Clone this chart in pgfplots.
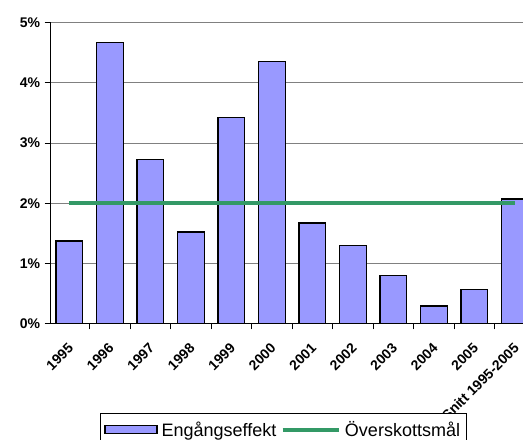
\documentclass[border=0pt]{standalone}
\usepackage{fontspec}
\setmainfont{Liberation Sans}
\usepackage{pgfplots}
\pgfplotsset{compat=1.18}
\definecolor{barblue}{HTML}{9999FF}
\definecolor{goalgreen}{HTML}{339966}

\begin{document}
\begin{tikzpicture}
\begin{axis}[
    name=ax,
    scale only axis,
    width=472pt, height=300.6pt,
    xmin=-0.46, xmax=11.2,
    ymin=0, ymax=5,
    axis x line=bottom, axis y line=left,
    axis line style={-, black, line width=0.8pt},
    xtick={0,...,11},
    xticklabels={1995,1996,1997,1998,1999,2000,2001,2002,2003,2004,2005,Snitt 1995-2005},
    major x tick style={draw=none},
    minor xtick={-0.5,0.5,...,11.5},
    minor x tick style={black, line width=0.8pt},
    minor tick length=6pt,
    ytick={0,1,...,5},
    yticklabel={\pgfmathprintnumber{\tick}\%},
    y tick style={black, line width=0.8pt},
    major tick length=6pt,
    tick align=outside,
    ymajorgrids,
    grid style={gray, line width=0.8pt},
    /pgf/number format/assume math mode=true,
    ticklabel style={font=\bfseries\fontsize{14}{14}\selectfont},
    y tick label style={xshift=-1pt},
    x tick label style={rotate=45, anchor=north east, xshift=-7pt, yshift=-4pt},
    legend columns=2,
    legend style={at={(0.1045,0)}, anchor=north west, yshift=-89.7pt,
        draw=black, line width=0.6pt, fill=white,
        font=\fontsize{18}{18}\selectfont,
        column sep=2pt, inner xsep=4pt, inner ysep=6pt},
]
\addplot[ybar, bar width=0.66, fill=barblue, draw=black, line width=1.2pt,
    legend image code/.code={\draw[fill=barblue, draw=black, line width=1.2pt] (0pt,-4pt) rectangle (52pt,4pt);}]
    coordinates {
    (0,1.37) (1,4.67) (2,2.73) (3,1.52) (4,3.43) (5,4.36)
    (6,1.67) (7,1.30) (8,0.80) (9,0.29) (10,0.56) (11,2.07)};
\addlegendentry{Engångseffekt}
\addplot[goalgreen, line width=4.5pt, mark=none,
    legend image code/.code={\draw[goalgreen, line width=4.5pt] (0pt,0pt) -- (56pt,0pt);}]
    coordinates {(0,2) (11,2)};
\addlegendentry{Överskottsmål}
\end{axis}
\pgfresetboundingbox
\path[use as bounding box] ([xshift=-50.7pt,yshift=-115.7pt]ax.south west) rectangle ([yshift=22.7pt]ax.north east);
\end{tikzpicture}
\end{document}
